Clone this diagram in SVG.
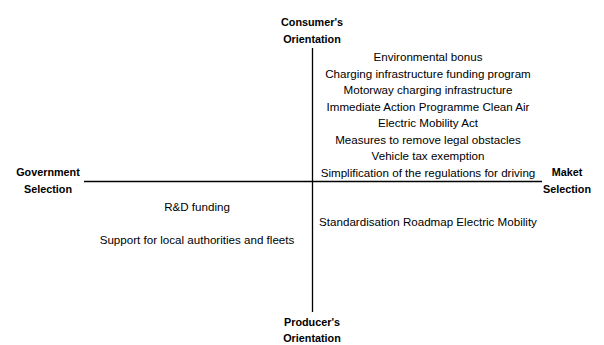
<svg xmlns="http://www.w3.org/2000/svg" width="604" height="345" viewBox="0 0 604 345">
<style>
text{font-family:"Liberation Sans",Arial,sans-serif;font-size:11.6px;fill:#000;text-anchor:middle}
.b{font-weight:bold;font-size:10.8px}
.ax{stroke:#000;stroke-width:1.3;fill:none}
</style>
<rect width="604" height="345" fill="#fff"/>
<g id="connectors">
<line class="ax" x1="312.5" y1="48" x2="312.5" y2="312"/>
<line class="ax" x1="84" y1="181.5" x2="542" y2="181.5"/>
</g>
<g id="consumer-orientation"><text class="b" x="312" y="26">Consumer's</text><text class="b" x="312" y="43">Orientation</text></g>
<g id="producer-orientation"><text class="b" x="312" y="326">Producer's</text><text class="b" x="312" y="342">Orientation</text></g>
<g id="government-selection"><text class="b" x="48" y="176">Government</text><text class="b" x="48" y="193">Selection</text></g>
<g id="market-selection"><text class="b" x="567" y="176">Maket</text><text class="b" x="567" y="193">Selection</text></g>
<g id="upper-right">
<text x="428" y="61">Environmental bonus</text>
<text x="428" y="77.5">Charging infrastructure funding program</text>
<text x="428" y="94">Motorway charging infrastructure</text>
<text x="428" y="110.5">Immediate Action Programme Clean Air</text>
<text x="428" y="127">Electric Mobility Act</text>
<text x="428" y="143.5">Measures to remove legal obstacles</text>
<text x="428" y="160">Vehicle tax exemption</text>
<text x="428" y="176.5">Simplification of the regulations for driving</text>
</g>
<g id="lower-right"><text x="428" y="226">Standardisation Roadmap Electric Mobility</text></g>
<g id="lower-left">
<text x="197" y="211">R&amp;D funding</text>
<text x="197" y="244">Support for local authorities and fleets</text>
</g>
</svg>
